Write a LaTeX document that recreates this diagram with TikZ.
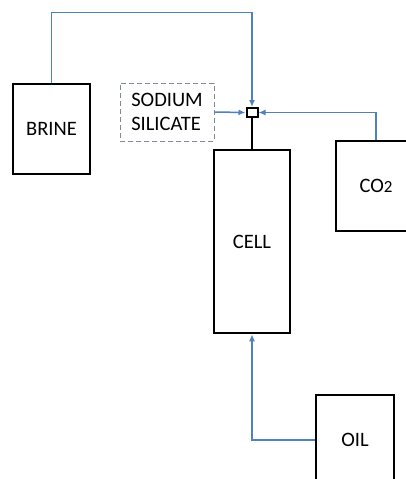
\documentclass[tikz,border=0pt]{standalone}
\usepackage{fontspec}
\setmainfont{Carlito}
\usetikzlibrary{arrows.meta,positioning,calc}
\definecolor{flowblue}{RGB}{79, 129, 189}
\definecolor{dashgray}{RGB}{128, 138, 150}

\begin{document}
\begin{tikzpicture}[x=1pt,y=-1pt,
    unit/.style={draw=black,line width=2.7pt,minimum width=77pt,minimum height=90pt,inner sep=0pt},
    additive/.style={draw=dashgray,dash pattern=on 5pt off 3pt,line width=1pt,minimum width=94pt,minimum height=58pt,align=left,inner sep=0pt},
    flow/.style={flowblue,line width=1.5pt,-{Latex[length=7pt,width=6pt]}},
    label/.style={font=\fontsize{20.5}{24}\selectfont}]
    \useasboundingbox (0,0) rectangle (405,479);
    % Vessels
    \node[unit,label] (brine) at (51.5,129) {BRINE};
    \node[additive,label] (sodium) at (167,112) {SODIUM\\SILICATE};
    \node[draw=black,line width=2pt,minimum width=11pt,minimum height=9pt,inner sep=0pt] (mixer) at (252,112.5) {};
    \node[unit,label,minimum width=76pt,minimum height=183pt] (cell) at (252,241.5) {CELL};
    \node[unit,label,minimum width=80pt] (co2) at (376,186) {CO{\fontsize{17}{17}\selectfont 2}};
    \node[unit,label,minimum width=78pt] (oil) at (355,440) {OIL};

    % Feed lines
    \draw[flow] (brine.north) -- ++(0,-70) -| (mixer.north);
    \draw[flow] (sodium.east) -- (mixer.west);
    \draw[flow] (co2.north) |- (mixer.east);
    \draw[black,line width=2.7pt] (mixer.south) -- (cell.north);
    \draw[flow] (oil.west) -| (cell.south);
\end{tikzpicture}
\end{document}
